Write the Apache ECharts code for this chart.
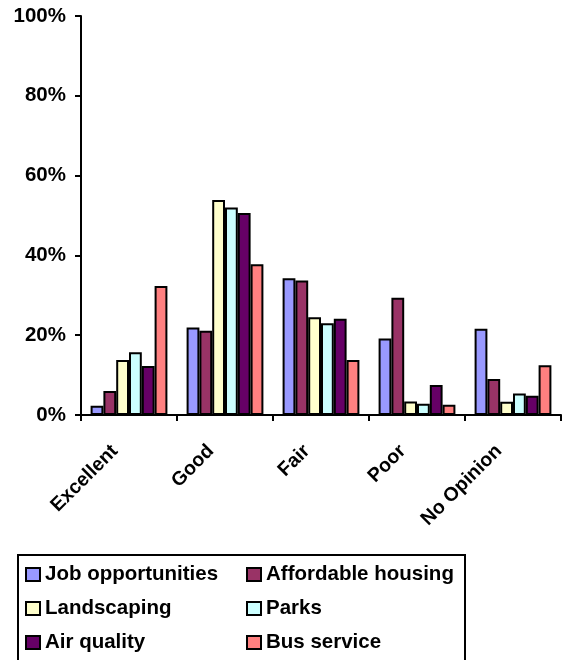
<!DOCTYPE html>
<html>
<head>
<meta charset="utf-8">
<script src="https://cdn.jsdelivr.net/npm/echarts@6/dist/echarts.min.js"></script>
<style>
  html, body { margin: 0; padding: 0; background: #fff; }
  #chart { width: 569px; height: 660px; }
</style>
</head>
<body>
<div id="chart"></div>
<script>
// Ratings by category (percent of respondents)
const categories = ['Excellent', 'Good', 'Fair', 'Poor', 'No Opinion'];
const jobOpportunities = [2.3, 21.9, 34.3, 19.2, 21.6];
const affordableHousing = [6.0, 21.1, 33.7, 29.4, 9.0];
const landscaping = [13.8, 53.9, 24.5, 3.4, 3.3];
const parks = [15.7, 52.0, 23.0, 2.8, 5.4];
const airQuality = [12.3, 50.6, 24.1, 7.5, 4.8];
const busService = [32.3, 37.8, 13.8, 2.6, 12.5];
const yTicks = [0, 20, 40, 60, 80, 100];

const seriesDefs = [
  { name: 'Job opportunities', data: jobOpportunities, color: '#9999FF' },
  { name: 'Affordable housing', data: affordableHousing, color: '#993366' },
  { name: 'Landscaping', data: landscaping, color: '#FFFFCC' },
  { name: 'Parks', data: parks, color: '#CCFFFF' },
  { name: 'Air quality', data: airQuality, color: '#660066' },
  { name: 'Bus service', data: busService, color: '#FF8080' }
];

const FONT = '"Liberation Sans", Arial, sans-serif';

const legendCommon = {
  orient: 'vertical',
  top: 564,
  padding: 0,
  itemGap: 13,
  itemWidth: 14,
  itemHeight: 13,
  icon: 'rect',
  selectedMode: false,
  itemStyle: { borderColor: '#000', borderWidth: 2 },
  textStyle: { fontFamily: FONT, fontWeight: 'bold', fontSize: 20.5, color: '#000', lineHeight: 20 }
};

const chart = echarts.init(document.getElementById('chart'), null, { renderer: 'canvas' });

chart.setOption({
  animation: false,
  backgroundColor: '#fff',
  grid: { left: 81, right: 8, top: 16, bottom: 245, containLabel: false },
  xAxis: {
    type: 'category',
    data: categories,
    boundaryGap: true,
    axisLine: { lineStyle: { color: '#000', width: 2 } },
    axisTick: { show: true, inside: false, length: 6, lineStyle: { color: '#000', width: 2 } },
    axisLabel: {
      rotate: 45,
      interval: 0,
      margin: 19,
      padding: [0, 20, 0, 0],
      fontFamily: FONT,
      fontWeight: 'bold',
      fontSize: 19.5,
      color: '#000'
    }
  },
  yAxis: {
    type: 'value',
    min: yTicks[0],
    max: yTicks[yTicks.length - 1],
    interval: yTicks[1] - yTicks[0],
    splitLine: { show: false },
    axisLine: { show: true, lineStyle: { color: '#000', width: 2 } },
    axisTick: { show: true, length: 6, lineStyle: { color: '#000', width: 2 } },
    axisLabel: {
      margin: 15,
      formatter: '{value}%',
      fontFamily: FONT,
      fontWeight: 'bold',
      fontSize: 20.5,
      color: '#000'
    }
  },
  legend: [
    Object.assign({}, legendCommon, {
      left: 25,
      data: ['Job opportunities', 'Landscaping', 'Air quality']
    }),
    Object.assign({}, legendCommon, {
      left: 246,
      data: ['Affordable housing', 'Parks', 'Bus service']
    })
  ],
  graphic: [{
    type: 'rect',
    shape: { x: 18, y: 555, width: 447, height: 120 },
    style: { fill: 'none', stroke: '#000', lineWidth: 2 },
    silent: true
  }],
  series: seriesDefs.map(s => ({
    name: s.name,
    type: 'bar',
    data: s.data,
    barGap: '0%',
    barCategoryGap: '20%',
    itemStyle: { color: s.color, borderColor: '#000', borderWidth: 2 }
  }))
});
</script>
</body>
</html>
